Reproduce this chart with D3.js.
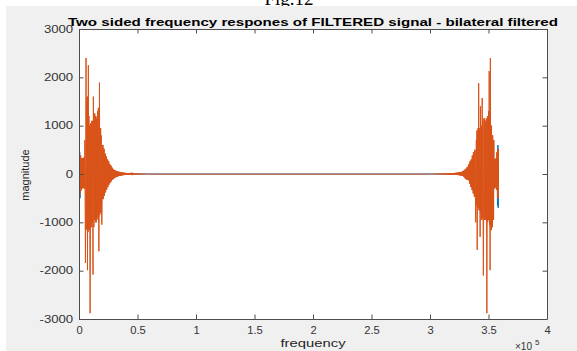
<!DOCTYPE html>
<html>
<head>
<meta charset="utf-8">
<script src="https://cdn.jsdelivr.net/npm/d3@7"></script>
<style>
  body { margin: 0; background: #fff; }
  svg { display: block; }
</style>
</head>
<body>
<div id="chart"></div>
<script>
const W = 577, H = 351;

const xTicks = [0, 50000, 100000, 150000, 200000, 250000, 300000, 350000, 400000];
const xTickLabels = ["0", "0.5", "1", "1.5", "2", "2.5", "3", "3.5", "4"];
const yTicks = [-3000, -2000, -1000, 0, 1000, 2000, 3000];

// spectrum in 1 kHz bins
const binHz = 1000;
const fEnd = 358600;

// left burst, bin k = k kHz from 0
const leftHi = [450, 380, 330, 320, 340, 700, 1500, 1600, 1200, 1000, 1050, 1100, 1000, 1250, 1200, 1150, 1300, 1100, 950, 800,
  600, 520, 420, 360, 300, 260, 200, 170, 130, 100, 80, 70, 60, 50, 45, 40, 35, 30, 25, 25,
  20, 20, 18, 15, 22, 25, 18, 10, 10, 10, 8, 8, 8, 6, 6, 5, 5, 4, 4, 3];
const leftLo = [-430, -350, -300, -280, -300, -700, -1150, -1200, -1150, -1250, -1100, -1000, -1100, -950, -1000, -900, -950, -850, -800, -650,
  -520, -450, -380, -320, -270, -220, -180, -150, -120, -100, -80, -65, -55, -45, -40, -35, -30, -25, -22, -20,
  -18, -16, -15, -14, -20, -22, -15, -9, -8, -8, -7, -6, -6, -5, -5, -4, -4, -3, -3, -3];
const leftSpikes = [[6000, 2400], [8000, 2250], [9500, 2080], [12200, 1600], [16500, 1370], [17600, 1890],
  [5400, -1840], [7300, -1990], [9400, -2880], [11900, -2080], [17100, -1600], [19400, -1050]];

// right burst, bin d = d kHz back from fEnd
const rightHi = [520, 450, 320, 300, 700, 800, 1000, 1250, 1300, 1200, 1150, 1100, 1150, 1100, 1000, 950, 950, 950, 900, 700,
  500, 450, 380, 300, 260, 200, 150, 130, 100, 80, 60, 45, 40, 35, 30, 28, 25, 22, 20, 18,
  16, 15, 14, 12, 12, 10, 10, 9, 8, 8, 7, 6, 6, 5, 5, 4, 4, 3, 3, 3];
const rightLo = [-500, -330, -280, -300, -950, -1100, -1160, -1050, -950, -1000, -950, -950, -950, -900, -950, -800, -750, -700, -650, -600,
  -470, -400, -330, -270, -200, -130, -120, -110, -90, -60, -40, -35, -30, -25, -22, -20, -18, -16, -15, -14,
  -13, -12, -11, -10, -10, -9, -8, -8, -7, -7, -6, -6, -5, -5, -4, -4, -3, -3, -3, -3];
const rightSpikes = [[351500, 2400], [350700, 2130], [348700, 2050], [344700, 1570], [343000, 1400], [341600, 1880],
  [348600, -2880], [351300, -1990], [345500, -2100], [340400, -1570], [342800, -1300], [339000, -1000]];

// the other (blue) trace only shows at both ends
const blueF = [0, 300, 600, 900, 1200, 357400, 357700, 358000, 358300, 358600];
const blueV = [640, -745, 450, -500, 0, 0, -650, 600, -700, 300];

const margin = { left: 79, right: 30, top: 29, bottom: 32 };
const plotW = W - margin.left - margin.right;   // 468
const plotH = H - margin.top - margin.bottom;   // 290

const x = d3.scaleLinear().domain([0, 400000]).range([margin.left, margin.left + plotW]);
const y = d3.scaleLinear().domain([-3000, 3000]).range([margin.top + plotH, margin.top]);

function burst(hi, lo, spikes, toF) {
  const pts = [];
  hi.forEach((h, k) => {
    [h, lo[k], h, lo[k]].forEach((v, j) => {
      pts.push([toF(k * binHz + j * binHz / 4), v]);
    });
  });
  spikes.forEach(([sf, sv]) => {
    let best = pts[0];
    pts.forEach(p => { if (Math.abs(p[0] - sf) < Math.abs(best[0] - sf)) best = p; });
    best[1] = sv;
  });
  return pts.sort((a, b) => a[0] - b[0]);
}

const orange = burst(leftHi, leftLo, leftSpikes, f => f)
  .concat(burst(rightHi, rightLo, rightSpikes, d => fEnd - d));
const blue = blueF.map((f, i) => [f, blueV[i]]);

const svg = d3.select("#chart").append("svg")
  .attr("width", W)
  .attr("height", H)
  .style("font-family", "'Liberation Sans', Arial, sans-serif");

svg.append("rect").attr("width", W).attr("height", H).attr("fill", "#fff");

svg.append("text")
  .attr("x", 289).attr("y", 5)
  .attr("text-anchor", "middle")
  .style("font-family", "'Liberation Serif', 'Times New Roman', serif")
  .style("font-size", "19px")
  .attr("fill", "#000")
  .text("Fig.12");

svg.append("rect")
  .attr("x", 6).attr("y", 6)
  .attr("width", W - 6).attr("height", H - 6)
  .attr("fill", "#f0f0f0");

svg.append("rect")
  .attr("x", margin.left).attr("y", margin.top)
  .attr("width", plotW).attr("height", plotH)
  .attr("fill", "#fff");

svg.append("clipPath").attr("id", "clip")
  .append("rect")
  .attr("x", margin.left).attr("y", margin.top)
  .attr("width", plotW).attr("height", plotH);

const line = d3.line().x(d => x(d[0])).y(d => y(d[1]));

const plot = svg.append("g").attr("clip-path", "url(#clip)");
plot.append("path")
  .datum(blue)
  .attr("d", line)
  .attr("fill", "none")
  .attr("stroke", "#0072BD")
  .attr("stroke-width", 1);
plot.append("path")
  .datum(orange)
  .attr("d", line)
  .attr("fill", "none")
  .attr("stroke", "#D95319")
  .attr("stroke-width", 1)
  .attr("stroke-linejoin", "round");

const axisColor = "#4d4d4d";
const tickLen = 4.5;

const gx = svg.append("g")
  .attr("transform", `translate(0,${margin.top + plotH})`)
  .call(d3.axisBottom(x).tickValues(xTicks).tickFormat((d, i) => xTickLabels[i])
    .tickSizeInner(-tickLen).tickSizeOuter(0).tickPadding(8));
gx.selectAll("text").attr("transform", "scale(1.12,1)");

const gxTop = svg.append("g")
  .attr("transform", `translate(0,${margin.top})`)
  .call(d3.axisTop(x).tickValues(xTicks).tickFormat("")
    .tickSizeInner(-tickLen).tickSizeOuter(0));

const gy = svg.append("g")
  .attr("transform", `translate(${margin.left},0)`)
  .call(d3.axisLeft(y).tickValues(yTicks).tickFormat(d3.format("d"))
    .tickSizeInner(-tickLen).tickSizeOuter(0).tickPadding(4.4));
gy.selectAll("text").attr("transform", "scale(1.32,1)");

const gyRight = svg.append("g")
  .attr("transform", `translate(${margin.left + plotW},0)`)
  .call(d3.axisRight(y).tickValues(yTicks).tickFormat("")
    .tickSizeInner(-tickLen).tickSizeOuter(0));

[gx, gxTop, gy, gyRight].forEach(g => {
  g.selectAll(".domain").attr("stroke", axisColor);
  g.selectAll(".tick line").attr("stroke", axisColor);
  g.selectAll("text")
    .attr("fill", "#333")
    .style("font-size", "10px")
    .style("font-family", "'Liberation Sans', Arial, sans-serif");
});
gy.selectAll("text").text(d => d3.format("d")(d).replace("\u2212", "-"));

svg.append("text")
  .attr("x", margin.left + plotW / 2).attr("y", 26)
  .attr("text-anchor", "middle")
  .attr("textLength", 490)
  .attr("lengthAdjust", "spacingAndGlyphs")
  .style("font-size", "11px")
  .style("font-weight", "bold")
  .attr("fill", "#000")
  .text("Two sided frequency respones of FILTERED signal - bilateral filtered");

svg.append("text")
  .attr("transform", `translate(${margin.left + plotW / 2},347) scale(1.35,1)`)
  .attr("text-anchor", "middle")
  .style("font-size", "11px")
  .attr("fill", "#262626")
  .text("frequency");

svg.append("text")
  .attr("transform", "translate(29,175) rotate(-90)")
  .attr("text-anchor", "middle")
  .style("font-size", "11px")
  .attr("fill", "#262626")
  .text("magnitude");

svg.append("text")
  .attr("x", 515).attr("y", 350)
  .style("font-size", "10px")
  .attr("fill", "#333")
  .text("\u00d710");
svg.append("text")
  .attr("x", 535).attr("y", 345)
  .style("font-size", "8px")
  .attr("fill", "#333")
  .text("5");
</script>
</body>
</html>
